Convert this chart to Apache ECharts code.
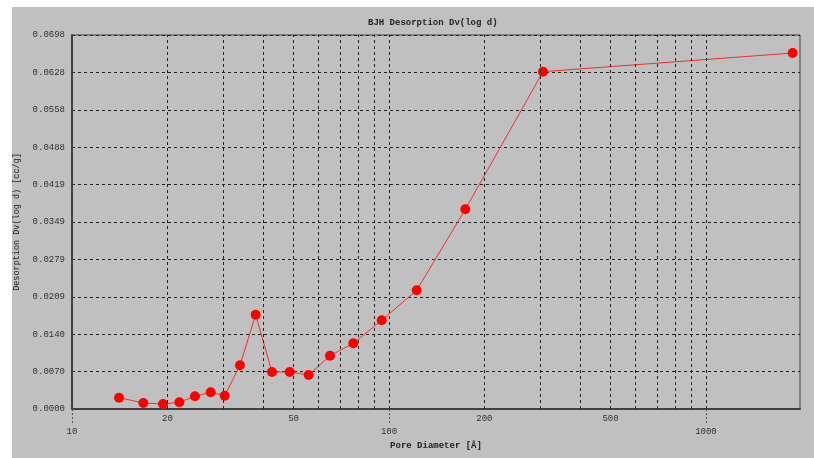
<!DOCTYPE html>
<html>
<head>
<meta charset="utf-8">
<script src="https://cdn.jsdelivr.net/npm/echarts@6/dist/echarts.min.js"></script>
<style>
html,body{margin:0;padding:0;background:#ffffff;width:814px;height:458px;overflow:hidden;}
#chart{position:absolute;left:12px;top:7px;width:802px;height:451px;}
</style>
</head>
<body>
<div id="chart"></div>
<script>
// Data
const poreDiameter = [14.07, 16.79, 19.37, 21.81, 24.43, 27.39, 30.32, 33.88, 37.97, 42.75, 48.62, 55.80, 65.16, 77.18, 94.84, 122.3, 174.1, 306.1, 1877];
const dvLogD = [0.00211, 0.00112, 0.00093, 0.00125, 0.00237, 0.00311, 0.00248, 0.00815, 0.01759, 0.00690, 0.00690, 0.00634, 0.00994, 0.01225, 0.01654, 0.02214, 0.03724, 0.06291, 0.06639];
const yTickLabels = ['0.0000', '0.0070', '0.0140', '0.0209', '0.0279', '0.0349', '0.0419', '0.0488', '0.0558', '0.0628', '0.0698'];
const xMajorTicks = [10, 100, 1000];
const xMinorGrid = [20, 30, 40, 50, 60, 70, 80, 90, 100, 200, 300, 400, 500, 600, 700, 800, 900, 1000];
const xUpperLabels = [20, 50, 200, 500];
const xMin = 10, xMax = 1980;
const yMax = 0.06975, yInterval = 0.006975;

const FONT = '"Liberation Mono", "DejaVu Sans Mono", monospace';
const chart = echarts.init(document.getElementById('chart'), null, {renderer: 'canvas'});
chart.setOption({
  backgroundColor: '#c0c0c0',
  animation: false,
  title: {
    text: 'BJH Desorption Dv(log d)',
    left: 356, top: 11, padding: 0,
    textStyle: {fontFamily: FONT, fontSize: 9, fontWeight: 'bold', color: '#222'}
  },
  grid: {left: 60, right: 14, top: 28, bottom: 49, containLabel: false, outerBoundsMode: 'none',
    show: true, borderColor: '#404040', borderWidth: 1, backgroundColor: 'transparent'},
  xAxis: {
    type: 'log', logBase: 10, min: xMin, max: xMax,
    name: 'Pore Diameter [Å]', nameLocation: 'middle', nameGap: 27,
    nameTextStyle: {fontFamily: FONT, fontSize: 9, fontWeight: 'bold', color: '#222'},
    axisLine: {lineStyle: {color: '#404040', width: 2}},
    axisTick: {show: true, customValues: xMajorTicks, length: 14, inside: false, lineStyle: {type: [2, 2], color: '#555', width: 1}},
    axisLabel: {customValues: xMajorTicks, margin: 18, fontFamily: FONT, fontSize: 9, color: '#333',
      formatter: v => String(Math.round(v))},
    splitLine: {show: false}
  },
  yAxis: {
    type: 'value', min: 0, max: yMax, interval: yInterval,
    name: 'Desorption Dv(log d) [cc/g]', nameLocation: 'middle', nameGap: 50, nameRotate: 90,
    nameTextStyle: {fontFamily: FONT, fontSize: 8.5, color: '#222'},
    axisLine: {show: true, lineStyle: {color: '#404040', width: 2}},
    axisTick: {show: false},
    axisLabel: {margin: 7, fontFamily: FONT, fontSize: 9, color: '#333',
      formatter: v => yTickLabels[Math.round(v / yInterval)] || ''},
    splitLine: {show: true, lineStyle: {type: [3, 3], color: '#222', width: 1}}
  },
  series: [
    {
      type: 'line', data: [], z: 1, silent: true,
      markLine: {
        silent: true, symbol: ['none', 'none'], animation: false,
        lineStyle: {type: [3, 3], color: '#222', width: 1},
        label: {show: false},
        emphasis: {disabled: true},
        data: xMinorGrid.map(v => ({
          xAxis: v,
          label: xUpperLabels.indexOf(v) >= 0
            ? {show: true, position: 'start', distance: 5, formatter: String(v), fontFamily: FONT, fontSize: 9, color: '#333'}
            : {show: false}
        }))
      }
    },
    {
      type: 'line', z: 3,
      data: poreDiameter.map((d, i) => [d, dvLogD[i]]),
      symbol: 'circle', symbolSize: 10, showSymbol: true,
      itemStyle: {color: '#ff0000'},
      lineStyle: {color: '#f03030', width: 1}
    }
  ]
});
</script>
</body>
</html>
